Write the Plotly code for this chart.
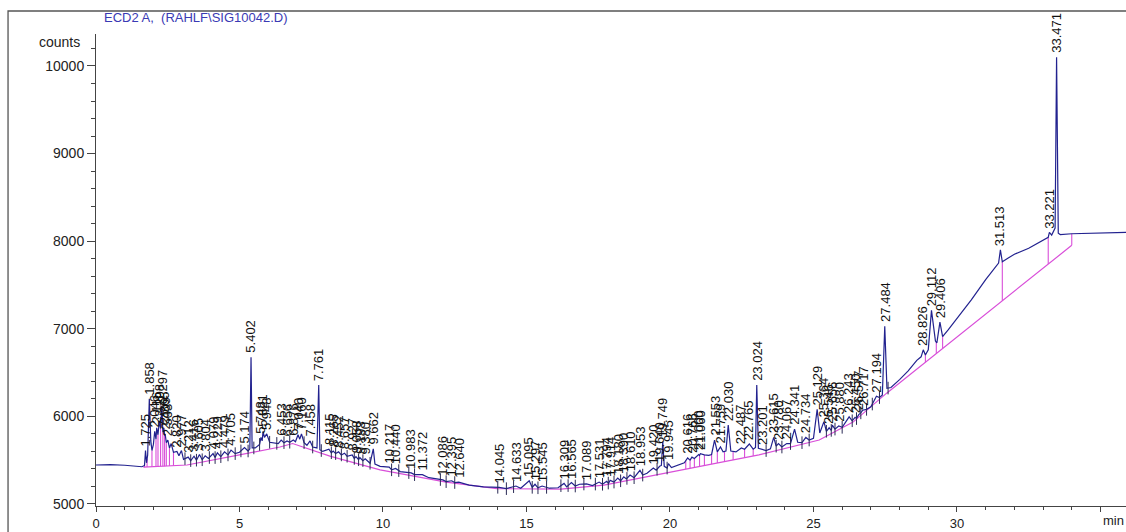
import numpy as np
import plotly.graph_objects as go

# Detector signal (time in min, counts)
time_min = [
    0.00, 0.50, 1.00, 1.30, 1.60, 1.69, 1.725, 1.76, 1.80, 1.858, 1.91, 1.95, 2.00, 2.046, 2.09,
    2.116, 2.16, 2.208, 2.25, 2.297, 2.33, 2.365, 2.39, 2.409, 2.45, 2.503, 2.56, 2.62, 2.70,
    2.820, 2.89, 2.977, 3.05, 3.212, 3.30, 3.416, 3.50, 3.605, 3.70, 3.804, 3.92, 4.079, 4.15,
    4.229, 4.35, 4.479, 4.60, 4.705, 4.85, 5.00, 5.174, 5.30, 5.36, 5.402, 5.44, 5.55, 5.70,
    5.748, 5.79, 5.821, 5.87, 5.948, 6.05, 6.20, 6.35, 6.453, 6.55, 6.656, 6.75, 6.876, 6.95,
    7.040, 7.10, 7.160, 7.25, 7.35, 7.458, 7.55, 7.70, 7.761, 7.80, 7.90, 8.115, 8.20, 8.265,
    8.35, 8.452, 8.55, 8.657, 8.75, 8.927, 9.00, 9.058, 9.15, 9.193, 9.30, 9.380, 9.55, 9.662,
    9.72, 9.90, 10.217, 10.30, 10.440, 10.60, 10.983, 11.10, 11.372, 11.60, 12.086, 12.20,
    12.395, 12.50, 12.640, 13.00, 13.50, 14.045, 14.30, 14.633, 14.80, 15.095, 15.20, 15.297,
    15.40, 15.545, 15.80, 16.10, 16.309, 16.40, 16.565, 16.70, 16.85, 17.089, 17.30, 17.531,
    17.65, 17.794, 17.86, 17.914, 18.05, 18.180, 18.28, 18.390, 18.48, 18.610, 18.75, 18.953,
    19.05, 19.20, 19.420, 19.52, 19.640, 19.70, 19.749, 19.80, 19.90, 19.945, 20.05, 20.30,
    20.50, 20.616, 20.70, 20.766, 20.85, 21.000, 21.03, 21.060, 21.20, 21.35, 21.45, 21.553,
    21.65, 21.759, 21.85, 21.95, 22.030, 22.12, 22.30, 22.487, 22.60, 22.765, 22.90, 22.98,
    23.024, 23.08, 23.201, 23.35, 23.50, 23.615, 23.70, 23.780, 23.90, 24.067, 24.20, 24.341,
    24.45, 24.60, 24.734, 24.85, 25.00, 25.129, 25.22, 25.364, 25.45, 25.546, 25.62, 25.656,
    25.75, 25.880, 26.00, 26.243, 26.35, 26.450, 26.50, 26.577, 26.65, 26.717, 26.85, 27.00,
    27.194, 27.30, 27.40, 27.484, 27.56, 27.70, 28.00, 28.30, 28.60, 28.75, 28.826, 28.90,
    29.00, 29.112, 29.25, 29.30, 29.406, 29.50, 29.70, 30.00, 30.50, 31.00, 31.30, 31.45,
    31.513, 31.58, 31.80, 32.00, 32.50, 33.00, 33.18, 33.221, 33.30, 33.42, 33.471, 33.53,
    33.60, 34.00, 34.50, 35.00, 35.90,
]
counts = [
    5445, 5450, 5442, 5436, 5425, 5440, 5610, 5470, 5560, 6200, 5720, 5610, 5680, 5830, 5740,
    5870, 5790, 5950, 5860, 6120, 5820, 5870, 5780, 5800, 5700, 5730, 5640, 5690, 5590,
    5600, 5550, 5610, 5510, 5535, 5495, 5545, 5500, 5565, 5505, 5550, 5520, 5575, 5530,
    5585, 5540, 5595, 5560, 5615, 5575, 5590, 5645, 5605, 5630, 6676, 5640, 5640, 5680,
    5760, 5720, 5830, 5760, 5800, 5705, 5695, 5690, 5730, 5700, 5720, 5705, 5730, 5710,
    5790, 5740, 5800, 5700, 5670, 5720, 5650, 5640, 6357, 5620, 5600, 5625, 5585, 5605,
    5575, 5595, 5560, 5580, 5545, 5560, 5520, 5540, 5505, 5530, 5495, 5515, 5465, 5630,
    5455, 5430, 5420, 5390, 5405, 5370, 5355, 5335, 5335, 5300, 5275, 5255,
    5265, 5245, 5250, 5215, 5195, 5190, 5175, 5205, 5180, 5265, 5190, 5225,
    5185, 5205, 5180, 5185, 5235, 5195, 5245, 5205, 5225, 5230, 5210, 5250,
    5225, 5260, 5235, 5270, 5250, 5295, 5265, 5310, 5285, 5330, 5300, 5385,
    5330, 5350, 5410, 5385, 5430, 5440, 5710, 5430, 5410, 5460, 5415, 5445,
    5470, 5525, 5500, 5535, 5520, 5565, 5555, 5575, 5560, 5555, 5565, 5730,
    5595, 5650, 5595, 5605, 5900, 5605, 5595, 5640, 5625, 5685, 5625, 5645,
    6357, 5635, 5625, 5610, 5630, 5760, 5660, 5690, 5650, 5690, 5690, 5855,
    5705, 5700, 5760, 5730, 5750, 6080, 5810, 5940, 5830, 5870, 5840, 5900,
    5855, 5890, 5875, 5995, 5950, 5990, 5975, 6020, 6040, 6070, 6080, 6110,
    6230, 6215, 6245, 7030, 6320, 6330, 6420, 6520, 6640, 6680, 6760, 6700,
    6760, 7210, 6860, 6840, 7075, 6910, 6990, 7115, 7330, 7560, 7690, 7750,
    7900, 7765, 7810, 7850, 7920, 8010, 8045, 8100, 8070, 8150, 10100, 8090,
    8075, 8085, 8088, 8092, 8100,
]

# Integration baseline (magenta)
baseline_time = [1.65, 3.17, 5.00, 6.41, 6.85, 8.15, 9.90, 12.20, 13.97, 15.70, 16.20,
                 17.70, 20.00, 23.10, 25.20, 26.38, 27.55, 34.00]
baseline_counts = [5420, 5445, 5560, 5650, 5690, 5547, 5390, 5250, 5175, 5170, 5170,
                   5215, 5365, 5560, 5730, 5935, 6265, 7953]

# Peak retention-time labels
peak_labels = [
    "1.725", "1.858", "2.046", "2.116", "2.208", "2.297", "2.365", "2.409", "2.503", "2.820",
    "2.977", "3.212", "3.416", "3.605", "3.804", "4.079", "4.229", "4.479", "4.705", "5.174",
    "5.402", "5.748", "5.821", "5.948", "6.453", "6.656", "6.876", "7.040", "7.160", "7.458",
    "7.761", "8.115", "8.265", "8.452", "8.657", "8.927", "9.058", "9.193", "9.380", "9.662",
    "10.217", "10.440", "10.983", "11.372", "12.086", "12.395", "12.640", "14.045", "14.633",
    "15.095", "15.297", "15.545", "16.309", "16.565", "17.089", "17.531", "17.794", "17.914",
    "18.180", "18.390", "18.610", "18.953", "19.420", "19.640", "19.749", "19.945", "20.616",
    "20.766", "21.000", "21.060", "21.553", "21.759", "22.030", "22.487", "22.765", "23.024",
    "23.201", "23.615", "23.780", "24.067", "24.341", "24.734", "25.129", "25.364", "25.546",
    "25.656", "25.880", "26.243", "26.450", "26.577", "26.717", "27.194", "27.484", "28.826",
    "29.112", "29.406", "31.513", "33.221", "33.471",
]

# Baseline drop lines and peak start/end tick marks
drop_times = [1.69, 1.78, 1.95, 2.09, 2.16, 2.25, 2.33, 2.39, 2.45, 2.56, 2.70,
              20.55, 20.70, 20.85, 21.03, 21.20, 21.45, 21.65, 21.90, 22.20, 22.60, 22.90,
              28.90, 29.28, 29.50, 31.58, 33.18, 34.00]
tick_times = [3.10, 3.30, 3.50, 3.70, 3.95, 4.15, 4.35, 4.60, 4.85, 5.05, 5.30, 5.50, 5.70,
              6.05, 6.30, 6.55, 6.75, 7.25, 7.55, 7.85, 8.20, 8.35, 8.55, 8.75, 9.00, 9.15,
              9.30, 9.55, 10.30, 10.55, 10.90, 11.10, 12.00, 12.20, 12.50, 14.00, 14.30, 14.55,
              15.20, 15.40, 15.70, 16.20, 16.45, 16.70, 17.00, 17.40, 17.65, 17.85, 18.05,
              18.28, 18.50, 18.75, 19.05, 19.55, 19.90, 23.35, 23.70, 23.90, 24.20, 24.60,
              24.85, 25.45, 25.62, 25.75, 26.00, 26.35, 26.50, 26.65, 26.85, 27.05, 27.30, 27.60]

x_ticks = [0, 5, 10, 15, 20, 25, 30, 35]
x_ticktext = ["0", "5", "10", "15", "20", "25", "30", ""]
y_ticks = [5000, 6000, 7000, 8000, 9000, 10000]
y_ticktext = ["5000", "6000", "7000", "8000", "9000", "10000"]

SIG = "#22228f"
BASE = "#d94fd9"
AX = "#444444"
FONT = "Liberation Sans, Arial, sans-serif"

fig = go.Figure()
fig.add_trace(go.Scatter(x=baseline_time, y=baseline_counts, mode="lines",
                         line=dict(color=BASE, width=1.2), hoverinfo="skip"))
dx, dy = [], []
for t in drop_times:
    dx += [t, t, None]
    dy += [float(np.interp(t, baseline_time, baseline_counts)),
           float(np.interp(t, time_min, counts)), None]
fig.add_trace(go.Scatter(x=dx, y=dy, mode="lines", line=dict(color=BASE, width=1.1),
                         hoverinfo="skip"))
fig.add_trace(go.Scatter(x=time_min, y=counts, mode="lines",
                         line=dict(color=SIG, width=1.2), hoverinfo="skip"))
fig.add_trace(go.Scatter(x=tick_times,
                         y=np.interp(tick_times, time_min, counts),
                         mode="markers",
                         marker=dict(symbol="line-ns", size=9,
                                     line=dict(width=1, color="#2a2a55")),
                         hoverinfo="skip"))

for lab in peak_labels:
    t = float(lab)
    fig.add_annotation(x=t, y=float(np.interp(t, time_min, counts)), text=lab,
                       textangle=-90, showarrow=False, xanchor="center", yanchor="bottom",
                       yshift=2, font=dict(family=FONT, size=13, color="#111111"))

fig.add_annotation(xref="paper", yref="paper", x=0.006, y=1.034, text="ECD2 A,  (RAHLF\\SIG10042.D)",
                   showarrow=False, xanchor="left", yanchor="middle",
                   font=dict(family=FONT, size=13, color="#3a3ab4"))
fig.add_annotation(xref="paper", x=0, xshift=-14, y=10270, text="counts", showarrow=False,
                   xanchor="right", yanchor="middle", font=dict(family=FONT, size=14, color="#222"))
fig.add_annotation(x=35, xshift=1, yref="paper", y=0, yshift=-5, text="min", showarrow=False,
                   xanchor="left", yanchor="top", font=dict(family=FONT, size=13, color="#222"))

fig.add_shape(type="path", xref="paper", yref="paper",
              path="M -0.0854,-0.2 L -0.0854,1.0487 L 1.05,1.0487",
              line=dict(color="#555555", width=1.3))

fig.update_xaxes(range=[0, 35.89], showline=True, linecolor=AX, linewidth=1, ticks="outside",
                 ticklen=5, tickcolor=AX, tickvals=x_ticks, ticktext=x_ticktext, automargin=False,
                 minor=dict(ticks="outside", ticklen=3, dtick=1, tick0=0, tickcolor=AX),
                 showgrid=False, zeroline=False, tickfont=dict(family=FONT, size=13, color="#222"))
fig.update_yaxes(range=[4977, 10365], showline=True, linecolor=AX, linewidth=1, ticks="outside",
                 ticklen=8, tickcolor=AX, tickvals=y_ticks, ticktext=y_ticktext, automargin=False,
                 minor=dict(ticks="outside", ticklen=4, dtick=200, tick0=5000, tickcolor=AX),
                 showgrid=False, zeroline=False, tickfont=dict(family=FONT, size=14, color="#222"))
fig.update_layout(width=1126, height=532, margin=dict(l=96, r=0, t=34, b=26),
                  plot_bgcolor="white", paper_bgcolor="white", showlegend=False)

fig.write_html("out.html")
